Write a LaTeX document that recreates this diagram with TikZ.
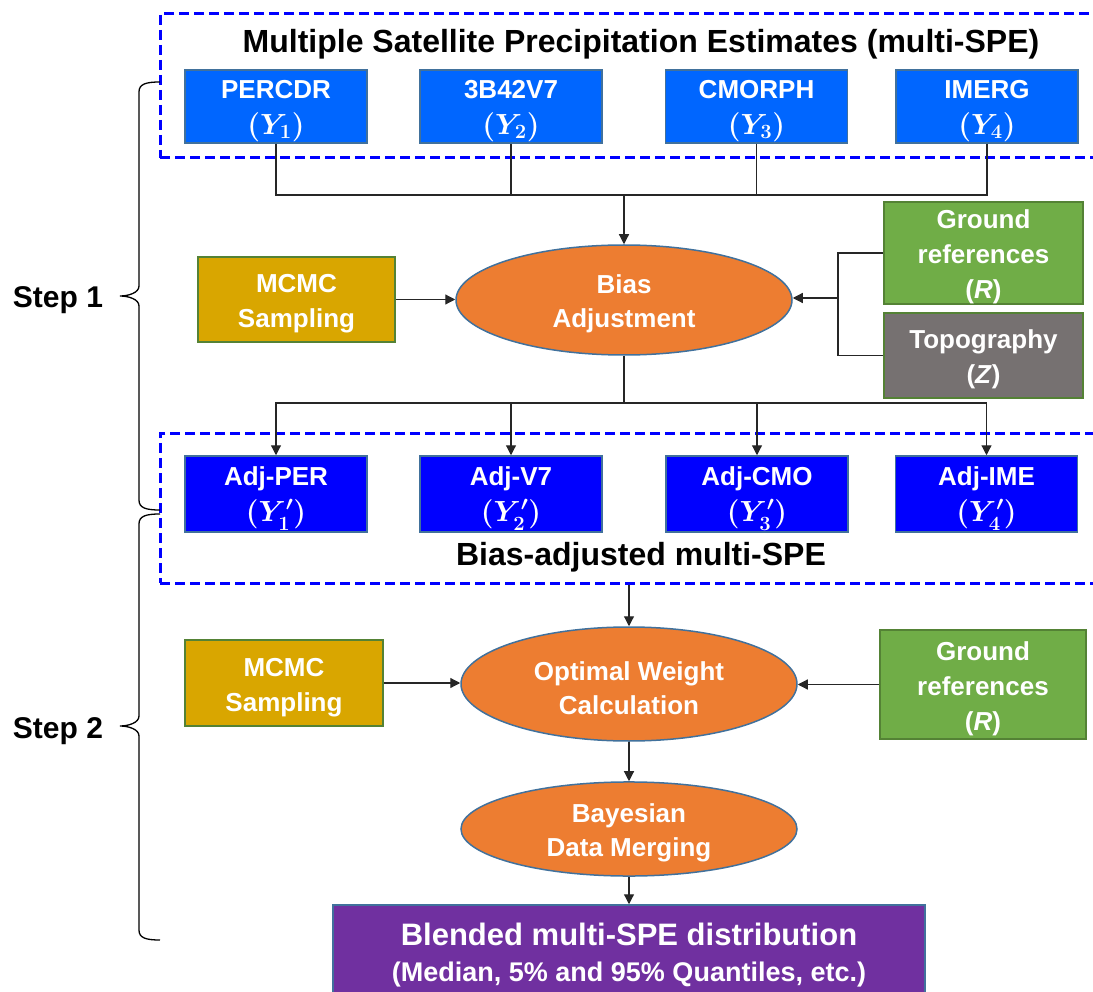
\documentclass[tikz,border=0pt]{standalone}
\usepackage{graphicx}
\usepackage{fontspec}
\setmainfont{Liberation Sans}
\usetikzlibrary{arrows.meta,shapes.geometric}
\definecolor{sblue}{HTML}{0066FF}
\definecolor{adjblue}{HTML}{0000FF}
\definecolor{bordblue}{HTML}{41719C}
\definecolor{goldc}{HTML}{D9A600}
\definecolor{grn}{HTML}{70AD47}
\definecolor{grnb}{HTML}{548235}
\definecolor{topoc}{HTML}{767171}
\definecolor{orng}{HTML}{ED7D31}
\definecolor{purp}{HTML}{7030A0}
\definecolor{dashblue}{HTML}{0000FF}
\newcommand{\mth}[1]{\scalebox{1.17}{\boldmath$#1$}}
\newcommand{\fst}{\rule{0pt}{27pt}}
\begin{document}
\begin{tikzpicture}[x=1pt,y=-1pt,
  box/.style={draw=bordblue, line width=1.5pt, text=white, align=center,
    font=\fontsize{26}{36}\selectfont\bfseries, inner sep=0pt},
  satbox/.style={box, fill=sblue, minimum width=182pt, minimum height=73pt},
  adjbox/.style={box, fill=adjblue, minimum width=182pt, minimum height=76pt},
  greenbox/.style={box, draw=grnb, fill=grn, font=\fontsize{26}{35}\selectfont\bfseries},
  goldbox/.style={box, draw=grnb, fill=goldc, font=\fontsize{26}{35}\selectfont\bfseries},
  graybox/.style={box, draw=grnb, fill=topoc, font=\fontsize{26}{35}\selectfont\bfseries},
  ellip/.style={ellipse, draw=bordblue, line width=1.5pt, fill=orng, text=white, align=center,
    font=\fontsize{26}{34}\selectfont\bfseries, inner sep=0pt, minimum width=336pt},
  dashbox/.style={draw=dashblue, line width=3pt, dash pattern=on 10pt off 5pt, inner sep=0pt},
  conn/.style={line width=1.2pt, draw=black!85},
  arr/.style={conn, -{Triangle[length=10pt,width=10pt]}},
  bigtitle/.style={font=\fontsize{32}{38}\selectfont\bfseries},
  steplab/.style={font=\fontsize{30}{36}\selectfont\bfseries, anchor=base},
  bracel/.style={line width=1.3pt, draw=black}
]
\useasboundingbox (0,0) rectangle (1093,992);
\clip (0,0) rectangle (1093,992);

% dashed groups
\node[dashbox, minimum width=940pt, minimum height=144pt] (topgrp) at (630,86) {};
\node[dashbox, minimum width=940pt, minimum height=150pt] (adjgrp) at (630,508) {};
\node[bigtitle] (title) at (641,44) {Multiple Satellite Precipitation Estimates (multi-SPE)};
\node[bigtitle] (adjtitle) at (641,557) {Bias-adjusted multi-SPE};

% satellite boxes
\node[satbox] (b1) at (276,106.5) {\fst PERCDR\\\mth{(Y_1)}};
\node[satbox] (b2) at (511,106.5) {\fst 3B42V7\\\mth{(Y_2)}};
\node[satbox] (b3) at (756.5,106.5) {\fst CMORPH\\\mth{(Y_3)}};
\node[satbox] (b4) at (987,106.5) {\fst IMERG\\\mth{(Y_4)}};

% step 1 nodes
\node[ellip, minimum height=110pt] (bias) at (624,300) {\fst Bias\\Adjustment};
\node[goldbox, minimum width=197pt, minimum height=85pt] (mc1) at (296.5,299.5) {\fst MCMC\\Sampling};
\node[greenbox, minimum width=199pt, minimum height=102pt] (gr1) at (983.5,253) {\fst Ground\\references\\(\textit{R})};
\node[graybox, minimum width=199pt, minimum height=85pt] (topo) at (983.5,355.5) {\fst Topography\\(\textit{Z})};

% adjusted boxes
\node[adjbox] (a1) at (276,494) {\fst Adj-PER\\\mth{(Y'_1)}};
\node[adjbox] (a2) at (511,494) {\fst Adj-V7\\\mth{(Y'_2)}};
\node[adjbox] (a3) at (757,494) {\fst Adj-CMO\\\mth{(Y'_3)}};
\node[adjbox] (a4) at (986.5,494) {\fst Adj-IME\\\mth{(Y'_4)}};

% step 2 nodes
\node[ellip, minimum height=114pt] (opt) at (629,684) {\fst Optimal Weight\\Calculation};
\node[goldbox, minimum width=198pt, minimum height=86pt] (mc2) at (284,683) {\fst MCMC\\Sampling};
\node[greenbox, minimum width=206pt, minimum height=109pt] (gr2) at (983,684.5) {\fst Ground\\references\\(\textit{R})};
\node[ellip, minimum height=88pt] (bay) at (629,829) {\fst Bayesian\\Data Merging};
\node[box, fill=purp, minimum width=592pt, minimum height=100pt] (blend) at (629,955) {};
\node[text=white, font=\fontsize{31}{34}\selectfont\bfseries, anchor=base] (bl1) at (629,945) {Blended multi-SPE distribution};
\node[text=white, font=\fontsize{27}{30}\selectfont\bfseries, anchor=base] (bl2) at (629,981) {(Median, 5\% and 95\% Quantiles, etc.)};

% connectors step 1
\coordinate (j1) at (624,195);
\draw[conn] (b1.south) |- (j1);
\draw[conn] (b2.south) |- (j1);
\draw[conn] (b3.south) |- (j1);
\draw[conn] (b4.south) |- (j1);
\draw[arr] (j1) -- (bias.north);
\draw[arr] (mc1.east) -- (mc1.east -| bias.west);
\coordinate (j2) at (838,298);
\draw[conn] (gr1.west) -| (j2) |- (topo.west);
\draw[arr] (j2) -- (j2 -| bias.east);
\coordinate (j3) at (624,403);
\draw[conn] (bias.south) -- (j3);
\draw[arr] (j3) -| (a1.north);
\draw[arr] (j3) -| (a2.north);
\draw[arr] (j3) -| (a3.north);
\draw[arr] (j3) -| (a4.north);

% connectors step 2
\draw[arr] (opt.north |- adjgrp.south) -- (opt.north);
\draw[arr] (mc2.east) -- (mc2.east -| opt.west);
\draw[arr] (gr2.west) -- (gr2.west -| opt.east);
\draw[arr] (opt.south) -- (bay.north);
\draw[arr] (bay.south) -- (blend.north);

% braces
\draw[bracel] (160,82) .. controls (146,82) and (139,84) .. (139,92) -- (139,286)
  .. controls (139,293) and (128,296) .. (120,296)
  .. controls (128,296) and (139,299) .. (139,306) -- (139,500)
  .. controls (139,508) and (146,510) .. (160,510);
\draw[bracel] (160,514) .. controls (146,514) and (139,516) .. (139,524) -- (139,716)
  .. controls (139,723) and (128,726) .. (120,726)
  .. controls (128,726) and (139,729) .. (139,736) -- (139,930)
  .. controls (139,938) and (146,940) .. (160,940);
\node[steplab] (s1) at (58,308) {Step 1};
\node[steplab] (s2) at (58,738) {Step 2};
\end{tikzpicture}
\end{document}
